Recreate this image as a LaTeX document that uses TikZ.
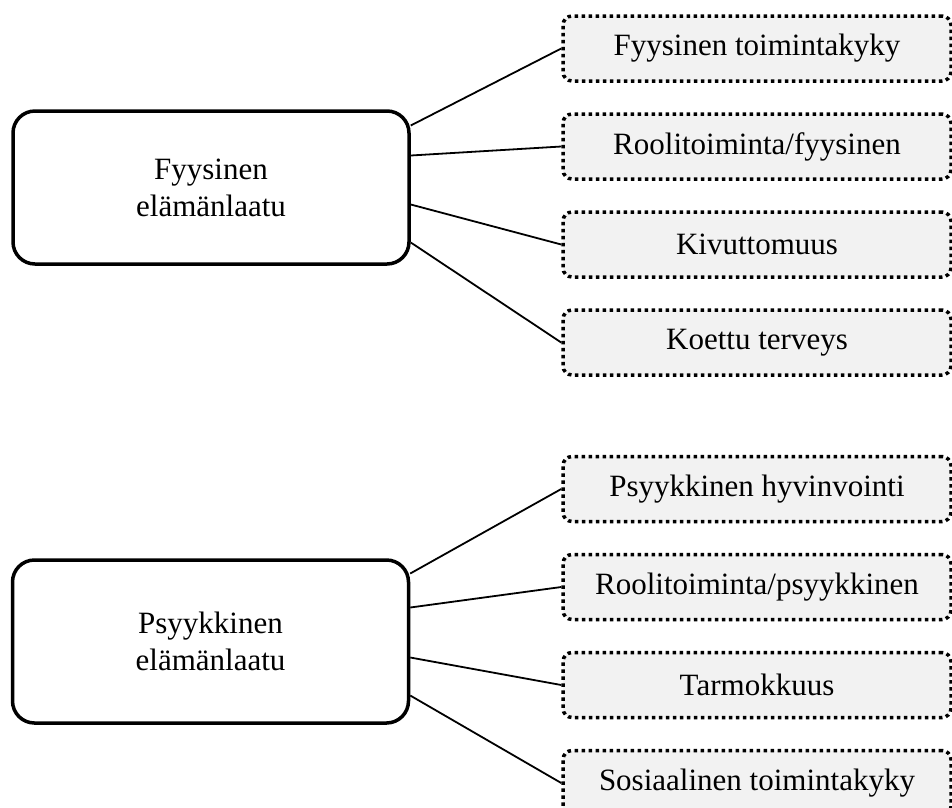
\documentclass[tikz,border=0pt]{standalone}
\usepackage{fontspec}
\setmainfont{Liberation Serif}
\usetikzlibrary{positioning}
\definecolor{subfill}{RGB}{242,242,242}

\tikzset{
  mainbox/.style={draw, line width=3.5pt, rounded corners=22pt, align=center,
    minimum width=396pt, font=\fontsize{31}{37}\selectfont},
  subbox/.style={draw, line width=3.5pt, dash pattern=on 3.5pt off 3.5pt,
    rounded corners=9pt, fill=subfill, minimum width=388pt, minimum height=65pt,
    font=\fontsize{31}{37}\selectfont},
  link/.style={line width=1.8pt}
}

\begin{document}
\begin{tikzpicture}[x=1pt, y=1pt, node distance=29.5pt]
  \useasboundingbox (0,0) rectangle (952,-807);

  % fyysinen
  \node[mainbox, minimum height=153pt] (fys) at (211,-187.5) {Fyysinen\\elämänlaatu};
  \node[subbox] (fys1) at (757,-48.5) {Fyysinen toimintakyky};
  \node[subbox, below=of fys1] (fys2) {Roolitoiminta/fyysinen};
  \node[subbox, below=of fys2] (fys3) {Kivuttomuus};
  \node[subbox, below=of fys3] (fys4) {Koettu terveys};
  \foreach \i/\s in {1/62,2/32,3/-17,4/-55}
    \draw[link] ([yshift=\s pt]fys.east) -- (fys\i.west);

  % psyykkinen
  \node[mainbox, minimum height=163pt] (psy) at (210.5,-641.5) {Psyykkinen\\elämänlaatu};
  \node[subbox] (psy1) at (757,-489) {Psyykkinen hyvinvointi};
  \node[subbox, below=of psy1] (psy2) {Roolitoiminta/psyykkinen};
  \node[subbox, below=of psy2] (psy3) {Tarmokkuus};
  \node[subbox, below=of psy3] (psy4) {Sosiaalinen toimintakyky};
  \foreach \i/\s in {1/68,2/34,3/-16,4/-54}
    \draw[link] ([yshift=\s pt]psy.east) -- (psy\i.west);
\end{tikzpicture}
\end{document}
